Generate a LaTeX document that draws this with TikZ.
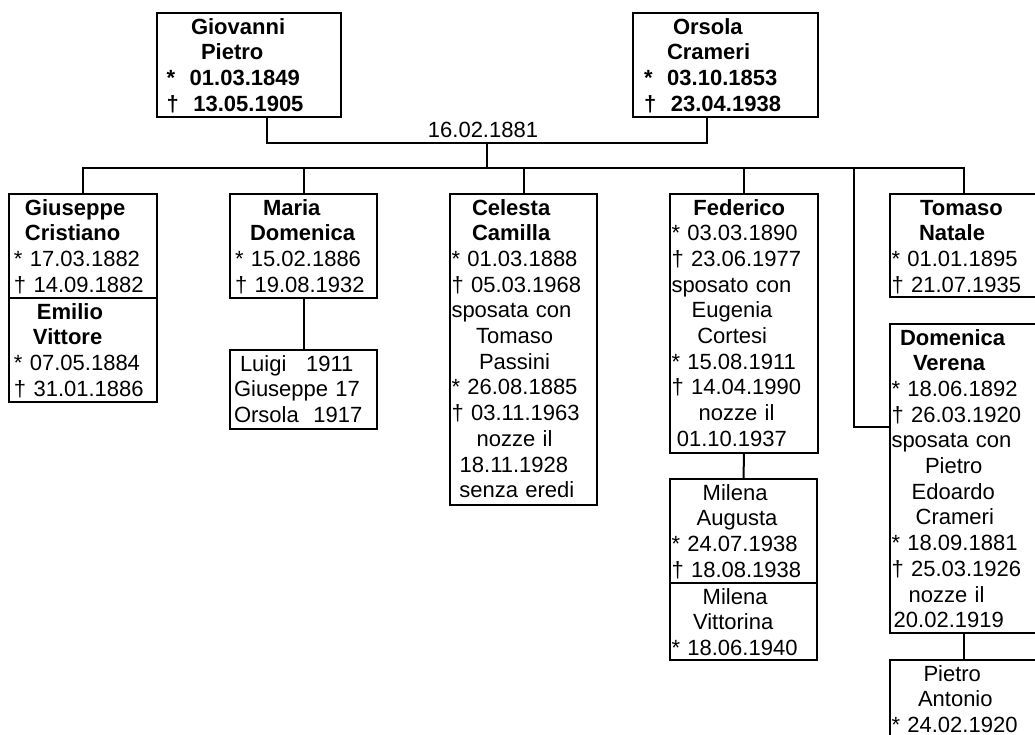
\documentclass[tikz,border=0pt]{standalone}
\usepackage{fontspec}
\setmainfont{Liberation Sans}
\newcommand\fst{\rule{0pt}{21pt}}
\newcommand\Ln[2]{\hspace*{#1pt}#2}
\tikzset{
  box/.style={draw, line width=2pt, anchor=north west, inner sep=0pt, outer sep=0pt},
  txt/.style={anchor=north west, inner sep=0pt, outer sep=0pt, align=left, text width=180pt,
    font=\fontsize{22pt}{25.7pt}\selectfont},
  conn/.style={line width=2pt}
}
\begin{document}
\begin{tikzpicture}[x=1pt,y=-1pt]
\useasboundingbox (0,0) rectangle (1035,734);
\fill[white] (0,0) rectangle (1035,734);
\clip (0,0) rectangle (1035,734);
% parents
\node[box, minimum width=184pt, minimum height=104pt] (GP) at (157,13) {};
\node[txt] (GPt) at (GP.north west) {\fst\Ln{34}{\textbf{Giovanni}}\\\Ln{44}{\textbf{Pietro}}\\\Ln{9.5}{\textbf{*~~01.03.1849}}\\\Ln{9.5}{\textbf{†~~13.05.1905}}};
\node[box, minimum width=185pt, minimum height=104pt] (OC) at (633,13) {};
\node[txt] (OCt) at (OC.north west) {\fst\Ln{40}{\textbf{Orsola}}\\\Ln{34}{\textbf{Crameri}}\\\Ln{11}{\textbf{*~~03.10.1853}}\\\Ln{11}{\textbf{†~~23.04.1938}}};
% children
\node[box, minimum width=148pt, minimum height=104pt] (GC) at (9,194) {};
\node[txt] (GCt) at (GC.north west) {\fst\Ln{16}{\textbf{Giuseppe}}\\\Ln{16}{\textbf{Cristiano}}\\\Ln{5}{* 17.03.1882}\\\Ln{5}{† 14.09.1882}};
\node[box, minimum width=148pt, minimum height=104pt] (EV) at (9,298) {};
\node[txt] (EVt) at (EV.north west) {\fst\Ln{28}{\textbf{Emilio}}\\\Ln{24}{\textbf{Vittore}}\\\Ln{5}{* 07.05.1884}\\\Ln{5}{† 31.01.1886}};
\node[box, minimum width=147pt, minimum height=104pt] (MD) at (230,194) {};
\node[txt] (MDt) at (MD.north west) {\fst\Ln{33}{\textbf{Maria}}\\\Ln{20}{\textbf{Domenica}}\\\Ln{5}{* 15.02.1886}\\\Ln{5}{† 19.08.1932}};
\node[box, minimum width=147pt, minimum height=79pt] (LU) at (230,350) {};
\node[txt] (LUt) at (LU.north west) {\fst\Ln{10}{Luigi\hspace{19.6pt}1911}\\\Ln{4}{Giuseppe 17}\\\Ln{4}{Orsola~~1917}};
\node[box, minimum width=147pt, minimum height=311pt] (CC) at (450,194) {};
\node[txt] (CCt) at (CC.north west) {\fst\Ln{22}{\textbf{Celesta}}\\\Ln{22}{\textbf{Camilla}}\\\Ln{1.5}{* 01.03.1888}\\\Ln{1.5}{† 05.03.1968}\\\Ln{1.5}{sposata con}\\\Ln{26}{Tomaso}\\\Ln{29}{Passini}\\\Ln{1.5}{* 26.08.1885}\\\Ln{1.5}{† 03.11.1963}\\\Ln{26.6}{nozze il}\\\Ln{9.7}{18.11.1928}\\\Ln{9.4}{senza eredi}};
\node[box, minimum width=148pt, minimum height=259pt] (FE) at (670,194) {};
\node[txt] (FEt) at (FE.north west) {\fst\Ln{23.4}{\textbf{Federico}}\\\Ln{1.5}{* 03.03.1890}\\\Ln{1.5}{† 23.06.1977}\\\Ln{1.5}{sposato con}\\\Ln{21.7}{Eugenia}\\\Ln{27.3}{Cortesi}\\\Ln{1.5}{* 15.08.1911}\\\Ln{1.5}{† 14.04.1990}\\\Ln{28.6}{nozze il}\\\Ln{6.8}{01.10.1937}};
\node[box, minimum width=147pt, minimum height=104pt] (MA) at (670,479) {};
\node[txt] (MAt) at (MA.north west) {\fst\Ln{32.7}{Milena}\\\Ln{26.7}{Augusta}\\\Ln{1.5}{* 24.07.1938}\\\Ln{1.5}{† 18.08.1938}};
\node[box, minimum width=147pt, minimum height=77pt] (MV) at (670,583) {};
\node[txt] (MVt) at (MV.north west) {\fst\Ln{32.7}{Milena}\\\Ln{23}{Vittorina}\\\Ln{1.5}{* 18.06.1940}};
\node[box, minimum width=148pt, minimum height=103pt] (TN) at (890,194) {};
\node[txt] (TNt) at (TN.north west) {\fst\Ln{30}{\textbf{Tomaso}}\\\Ln{29}{\textbf{Natale}}\\\Ln{1.5}{* 01.01.1895}\\\Ln{1.5}{† 21.07.1935}};
\node[box, minimum width=148pt, minimum height=309pt] (DV) at (890,324) {};
\node[txt] (DVt) at (DV.north west) {\fst\Ln{10}{\textbf{Domenica}}\\\Ln{23}{\textbf{Verena}}\\\Ln{1.5}{* 18.06.1892}\\\Ln{1.5}{† 26.03.1920}\\\Ln{1.5}{sposata con}\\\Ln{35}{Pietro}\\\Ln{21.7}{Edoardo}\\\Ln{25.7}{Crameri}\\\Ln{1.5}{* 18.09.1881}\\\Ln{1.5}{† 25.03.1926}\\\Ln{18.6}{nozze il}\\\Ln{3.7}{20.02.1919}};
\node[box, minimum width=148pt, minimum height=80pt] (PA) at (890,660) {};
\node[txt] (PAt) at (PA.north west) {\fst\Ln{33.5}{Pietro}\\\Ln{28}{Antonio}\\\Ln{1.5}{* 24.02.1920}};
% marriage
\coordinate (m1) at (267,143);
\coordinate (m2) at (707,143);
\coordinate (b0) at (487,143);
\coordinate (b1) at (487,168);
\coordinate (dvx) at (854,168);
\coordinate (dvj) at (854,427);
\draw[conn] (GP.south -| m1) -- (m1) -- (m2) -- (OC.south -| m2);
\node[anchor=base, inner sep=0pt, font=\fontsize{22pt}{25.7pt}\selectfont] (wed) at (483,137.5) {16.02.1881};
\draw[conn] (b0) -- (b1);
\draw[conn] (GC.north) -- (GC.north |- b1) -- (TN.north |- b1) -- (TN.north);
\draw[conn] (MD.north) -- (MD.north |- b1);
\draw[conn] (CC.north) -- (CC.north |- b1);
\draw[conn] (FE.north) -- (FE.north |- b1);
\draw[conn] (dvx) -- (dvj) -- (dvj -| DV.west);
\draw[conn] (MD.south) -- (LU.north);
\draw[conn] (FE.south) -- (MA.north);
\draw[conn] (DV.south) -- (PA.north);
\end{tikzpicture}
\end{document}
